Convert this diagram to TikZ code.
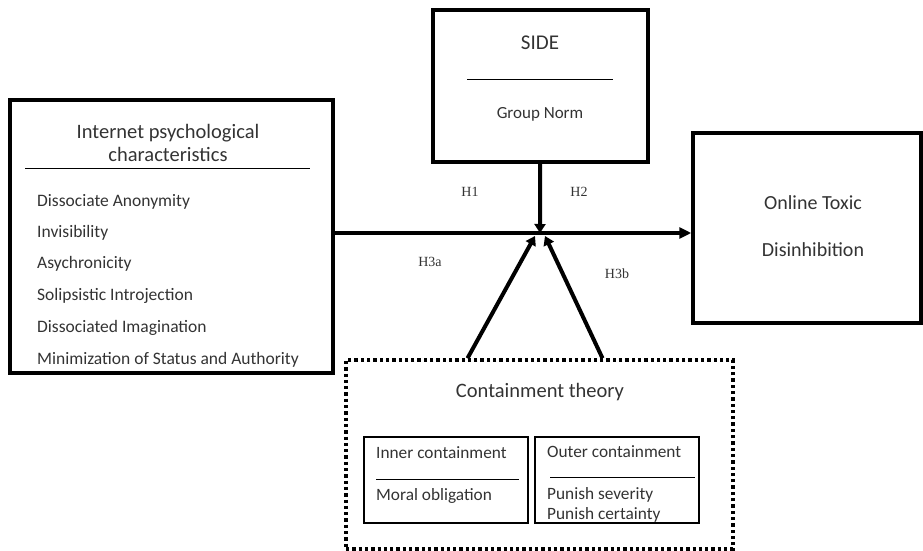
\documentclass[tikz,border=0pt]{standalone}
\usepackage{fontspec}
\setmainfont{Carlito}
\newfontfamily\hfont{Liberation Serif}
\usetikzlibrary{positioning}
\usetikzlibrary{arrows.meta}
\definecolor{txtgray}{rgb}{0.2, 0.2, 0.2}
\tikzset{bigbox/.style = {draw, line width=3.5pt, inner sep=0}}
\tikzset{smallbox/.style = {draw, line width=2pt, inner sep=0}}
\tikzset{dotbox/.style = {draw, line width=3.5pt, dash pattern=on 3.3pt off 3pt, inner sep=0}}
\tikzset{arr/.style = {line width=4pt, -{Triangle[length=12pt,width=11pt]}}}
\tikzset{harr/.style = {line width=4pt, -{Triangle[length=9pt,width=11pt]}}}
\tikzset{item/.style = {anchor=west, inner sep=0, text=txtgray, font=\fontsize{17.5}{20}\selectfont}}
\tikzset{hyp/.style = {inner sep=0, text=txtgray, font=\hfont\fontsize{14}{16}\selectfont}}
\tikzset{every picture/.style={x=1pt, y=-1pt}}

\begin{document}
\begin{tikzpicture}[every node/.append style={text=txtgray}]
    \useasboundingbox (0,0) rectangle (923,551);
    % boxes
    \node[bigbox, minimum width=323pt, minimum height=273pt] (ipc) at (171.5,236.5) {};
    \node[bigbox, minimum width=215pt, minimum height=152pt] (side) at (540.5,86) {};
    \node[bigbox, minimum width=228pt, minimum height=190pt] (tox) at (807,228) {};
    \node[dotbox, minimum width=387pt, minimum height=189pt] (cont) at (539.5,454.5) {};
    \node[smallbox, minimum width=164pt, minimum height=86pt] (inner) at (446,480) {};

    % left box
    \node[align=center, inner sep=0, font=\fontsize{20.5}{22.5}\selectfont]
      (ipctitle) at (168,143) {Internet psychological\\characteristics};
    \draw[line width=1pt] (25,168) -- (310,168);
    \node[item] (anon) at (37,202) {Dissociate Anonymity};
    \node[item] (invis) at (37,233) {Invisibility};
    \node[item] (async) at (37,264) {Asychronicity};
    \node[item] (solip) at (37,296) {Solipsistic Introjection};
    \node[item] (imag) at (37,328) {Dissociated Imagination};
    \node[item] (minim) at (37,360) {Minimization of Status and Authority};

    % SIDE
    \node[inner sep=0, font=\fontsize{21}{24}\selectfont] (sidet) at (540,43) {SIDE};
    \draw[line width=1pt] (467,79) -- (613,79);
    \node[inner sep=0, font=\fontsize{17}{20}\selectfont] (norm) at (540,114) {Group Norm};

    % outcome
    \node[inner sep=0, font=\fontsize{20}{23}\selectfont] (toxa) at (813,203) {Online Toxic};
    \node[inner sep=0, font=\fontsize{20}{23}\selectfont] (toxb) at (813,250) {Disinhibition};

    % containment
    \node[inner sep=0, font=\fontsize{20.5}{23}\selectfont] (contt) at (540,392) {Containment theory};
    \node[item, font=\fontsize{17.3}{20}\selectfont] (innert) at (376,453) {Inner containment};
    \draw[line width=1pt] (376,479) -- (519,479);
    \node[item, font=\fontsize{17.3}{20}\selectfont] (moral) at (376,496) {Moral obligation};
    \node[item, font=\fontsize{17.3}{20}\selectfont] (outert) at (547,452) {Outer containment};
    \draw[line width=1pt] (550,477) -- (695,477);
    \node[item, font=\fontsize{17.3}{20}\selectfont] (sev) at (547,495) {Punish severity};
    \node[item, font=\fontsize{17.3}{20}\selectfont] (cert) at (547,515) {Punish certainty};
    \node[smallbox, minimum width=164pt, minimum height=86pt] (outer) at (617,480) {};

    % hypotheses
    \node[hyp] (h1) at (470,192) {H1};
    \node[hyp] (h2) at (579,192) {H2};
    \node[hyp] (h3a) at (430,262) {H3a};
    \node[hyp] (h3b) at (617,274) {H3b};

    % arrows
    \coordinate (hub) at (540,233);
    \draw[harr] (side) -- (hub);
    \draw[arr] (ipc.east |- hub) -- (tox.west |- hub);
    \draw[harr] ([xshift=-72pt]cont.north) -- ([xshift=-5pt,yshift=-3pt]hub);
    \draw[harr] ([xshift=63pt]cont.north) -- ([xshift=5pt,yshift=-3pt]hub);
\end{tikzpicture}
\end{document}
